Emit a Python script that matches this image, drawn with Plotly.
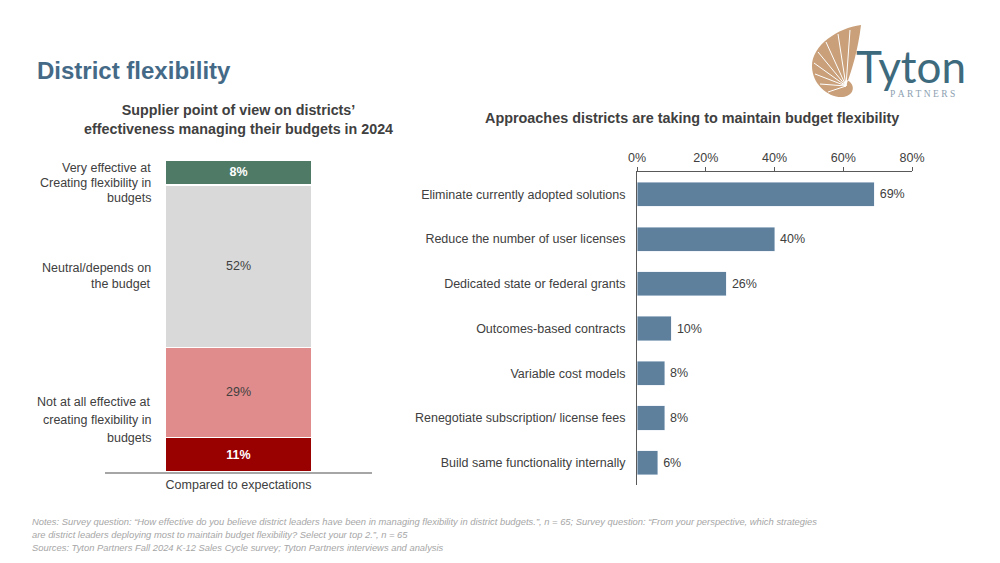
import plotly.graph_objects as go

# ---------------- data ----------------
left_category = ["Compared to expectations"]
seg_names = ["Not at all effective (strong)", "Not at all effective", "Neutral/depends on the budget", "Very effective"]
seg_values = [11, 29, 52, 8]
seg_colors = ["#990000", "#E08C8C", "#D9D9D9", "#4E7A66"]
seg_text_colors = ["#FFFFFF", "#404040", "#404040", "#FFFFFF"]
seg_bold = [True, False, False, True]

approaches = [
    "Eliminate currently adopted solutions",
    "Reduce the number of user licenses",
    "Dedicated state or federal grants",
    "Outcomes-based contracts",
    "Variable cost models",
    "Renegotiate subscription/ license fees",
    "Build same functionality internally",
]
approach_values = [69, 40, 26, 10, 8, 8, 6]
right_ticks = [0, 20, 40, 60, 80]
right_tick_text = ["0%", "20%", "40%", "60%", "80%"]

FONT = "Liberation Sans, Arial, sans-serif"
TXT = "#404040"
FS = 12.5

fig = go.Figure()

# ---------------- left stacked bar ----------------
for name, v, c, tc, b in zip(seg_names, seg_values, seg_colors, seg_text_colors, seg_bold):
    label = f"{v}%"
    if b:
        label = f"<b>{label}</b>"
    fig.add_trace(go.Bar(
        x=left_category, y=[v], name=name, marker=dict(color=c, line=dict(color="white", width=1.2)),
        text=[label], textposition="inside", insidetextanchor="middle",
        textfont=dict(color=tc, size=FS, family=FONT), width=0.55,
        xaxis="x", yaxis="y", showlegend=False, hoverinfo="skip",
    ))

# ---------------- right horizontal bars ----------------
fig.add_trace(go.Bar(
    y=approaches, x=approach_values, orientation="h",
    marker=dict(color="#5E809C"), width=0.54,
    text=[f"\u2009{v}%" for v in approach_values], textposition="outside",
    textfont=dict(color=TXT, size=FS, family=FONT), cliponaxis=False,
    xaxis="x2", yaxis="y2", showlegend=False, hoverinfo="skip",
))

# invisible overlay trace for pixel-space axes
fig.add_trace(go.Scatter(x=[0], y=[0], mode="markers", marker=dict(opacity=0),
                         xaxis="x3", yaxis="y3", showlegend=False, hoverinfo="skip"))

W, H = 1000, 563
def py(p):
    return 1 - p / H

fig.update_layout(
    width=W, height=H, margin=dict(l=0, r=0, t=0, b=0, pad=0, autoexpand=False),
    paper_bgcolor="white", plot_bgcolor="rgba(0,0,0,0)",
    barmode="stack", font=dict(family=FONT, color=TXT, size=FS),
    xaxis=dict(domain=[0.105, 0.372], range=[-0.5, 0.5], type="category",
               showline=True, linecolor="#A6A6A6", linewidth=1.5, ticks="",
               tickfont=dict(size=FS, color=TXT), showgrid=False, zeroline=False, automargin=False),
    yaxis=dict(domain=[py(472), py(160)], range=[0, 100], visible=False, automargin=False),
    xaxis2=dict(domain=[0.637, 0.912], range=[0, 80], side="top", anchor="y2",
                tickmode="array", tickvals=right_ticks, ticktext=right_tick_text,
                showline=True, linecolor="#595959",
                linewidth=1, ticks="outside", ticklen=4, tickcolor="#595959",
                showgrid=False, zeroline=False, tickfont=dict(size=FS, color=TXT), automargin=False),
    yaxis2=dict(domain=[py(485), py(172)], anchor="x2", autorange="reversed",
                showline=True, linecolor="#595959", linewidth=1, ticks="",
                ticklabelstandoff=8, tickfont=dict(size=FS, color=TXT), showgrid=False, automargin=False),
    xaxis3=dict(domain=[0, 1], range=[0, W], visible=False, fixedrange=True, automargin=False),
    yaxis3=dict(domain=[0, 1], range=[H, 0], visible=False, fixedrange=True, anchor="x3", automargin=False),
)

ann = []
def A(x, y, text, size=FS, color=TXT, xanchor="left", yanchor="middle", **kw):
    ann.append(dict(x=x, y=y, xref="x3", yref="y3", text=text, showarrow=False,
                    xanchor=xanchor, yanchor=yanchor,
                    font=dict(size=size, color=color, family=kw.pop("family", FONT)), **kw))

# title
A(35, 70, "<b>District flexibility</b>", size=24, color="#446A87")
# chart titles
A(238, 119, "<b>Supplier point of view on districts’<br>effectiveness managing their budgets in 2024</b>",
  size=14.3, xanchor="center", align="center")
A(692, 118, "<b>Approaches districts are taking to maintain budget flexibility</b>", size=14.4, xanchor="center")

# left segment labels (line by line)
left_label_lines = [
    ("Very effective at", 168), ("Creating flexibility in", 183), ("budgets", 198),
    ("Neutral/depends on", 268), ("the budget", 284),
    ("Not at all effective at", 402), ("creating flexibility in", 420), ("budgets", 438),
]
for t, y in left_label_lines:
    A(153, y, t, xanchor="right")

# notes
notes = [
    "Notes: Survey question: “How effective do you believe district leaders have been in managing flexibility in district budgets.”, n = 65; Survey question: “From your perspective, which strategies",
    "are district leaders deploying most to maintain budget flexibility? Select your top 2.”, n = 65",
    "Sources: Tyton Partners Fall 2024 K-12 Sales Cycle survey; Tyton Partners interviews and analysis",
]
for i, t in enumerate(notes):
    A(30, 521 + 13 * i, f"<i>{t}</i>", size=9.4, color="#A6A6A6",
      family="Liberation Sans Narrow, Arial Narrow, Liberation Sans, sans-serif")

# logo text
A(854, 66, "Tyton", size=44, color="#3D6A7D", family="Lato, Open Sans, sans-serif")
A(922, 94, "P\u00a0A\u00a0R\u00a0T\u00a0N\u00a0E\u00a0R\u00a0S", size=9.5, color="#8CA0B0",
  xanchor="center", family="Liberation Serif, serif")

fig.update_layout(annotations=ann)

# logo shell
shapes = []
shapes.append(dict(type="path", xref="x3", yref="y3",
                   path="M 861 25 C 838 28, 812 45, 812 66 C 812 84, 828 98, 843 97 "
                        "C 852 96, 856 88, 850 82 C 846 78, 842 82, 846 86 "
                        "C 852 70, 858 50, 861 25 Z",
                   fillcolor="#C9A07A", line=dict(width=0)))
hub = (846, 86)
for ex, ey in [(850, 30), (838, 34), (826, 42), (818, 52), (814, 63), (815, 74), (820, 84), (828, 92)]:
    shapes.append(dict(type="line", xref="x3", yref="y3", x0=hub[0], y0=hub[1], x1=ex, y1=ey,
                       line=dict(color="white", width=1)))
fig.update_layout(shapes=shapes)

fig.write_html("out.html", config={"displayModeBar": False},
               post_script="document.body.style.margin='0';document.body.style.overflow='hidden';")
